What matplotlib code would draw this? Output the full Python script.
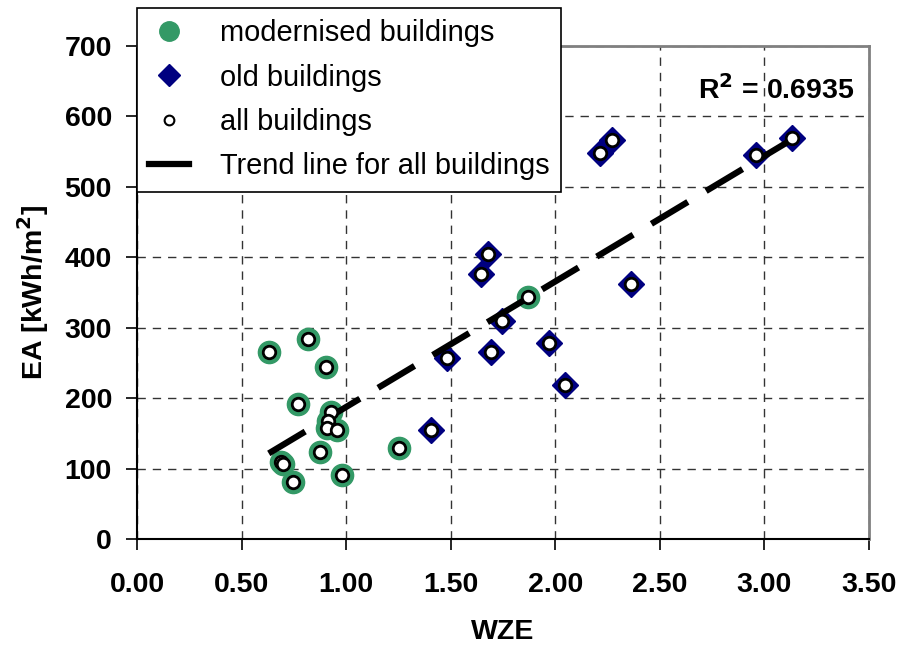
import numpy as np
import matplotlib.pyplot as plt
from matplotlib.lines import Line2D

plt.rcParams['font.family'] = ['Liberation Sans', 'DejaVu Sans']

# modernised buildings
mod_wze = [0.63, 0.82, 0.77, 0.905, 0.927, 0.913, 0.91, 0.958, 0.874,
           0.69, 0.70, 0.746, 0.978, 1.253, 1.87]
mod_ea = [265, 284, 191, 244, 180, 167, 157, 155, 124,
          110, 107, 81, 91, 129, 344]

# old buildings
old_wze = [1.679, 1.644, 1.745, 1.692, 1.481, 1.969, 2.048, 2.36, 1.405,
           2.215, 2.271, 2.958, 3.134]
old_ea = [404, 376, 309, 266, 257, 279, 219, 362, 155,
          548, 567, 545, 569]

r2_text = 'R$^\\mathbf{2}$ = 0.6935'

green = '#339966'
navy = '#000080'
fs = 20.5

all_wze = np.array(mod_wze + old_wze)
all_ea = np.array(mod_ea + old_ea)
k, d = np.polyfit(all_wze, all_ea, 1)
xt = np.array([all_wze.min(), all_wze.max()])

fig = plt.figure(figsize=(9, 6.48), dpi=100)
ax = fig.add_axes([0.1522, 0.1682, 0.8134, 0.7608])

ax.plot(mod_wze, mod_ea, 'o', ms=16, color=green, zorder=3)
ax.plot(old_wze, old_ea, 'D', ms=13, color=navy, zorder=3)
ax.plot(xt, k * xt + d, color='black', lw=4.5, dashes=(6.8, 3.4), zorder=4)
ax.plot(all_wze, all_ea, 'o', ms=9, mfc='white', mec='black', mew=2, zorder=5)

ax.set_xlim(0, 3.5)
ax.set_ylim(0, 700)
ax.set_xticks(np.arange(0, 3.51, 0.5))
ax.set_yticks(np.arange(0, 701, 100))
ax.set_xticklabels(['%.2f' % v for v in np.arange(0, 3.51, 0.5)])
ax.tick_params(direction='out', length=8, width=1.2, labelsize=fs, pad=10)
ax.tick_params(axis='x', pad=16)
for lab in ax.get_xticklabels() + ax.get_yticklabels():
    lab.set_fontweight('bold')
ax.grid(True, color='#333333', linestyle=(0, (6, 5)), lw=1)
ax.set_axisbelow(True)

for s in ['top', 'right']:
    ax.spines[s].set_color('#808080')
    ax.spines[s].set_linewidth(2)
for s in ['left', 'bottom']:
    ax.spines[s].set_color('black')
    ax.spines[s].set_linewidth(1.5)

ax.set_xlabel('WZE', fontsize=fs, fontweight='bold', labelpad=15)
ax.set_ylabel('EA [kWh/m$^\\mathbf{2}$]', fontsize=fs, fontweight='bold', labelpad=10)

ax.text(0.98, 0.91, r2_text, transform=ax.transAxes, ha='right', va='center',
        fontsize=fs, fontweight='bold', zorder=6)

handles = [
    Line2D([], [], marker='o', ls='none', ms=14, color=green),
    Line2D([], [], marker='D', ls='none', ms=11, color=navy),
    Line2D([], [], marker='o', ls='none', ms=7, mfc='white', mec='black', mew=1.5),
    Line2D([], [], color='black', lw=4.5),
]
labels = ['modernised buildings', 'old buildings', 'all buildings',
          'Trend line for all buildings']
leg = fig.legend(handles, labels, loc='upper left', bbox_to_anchor=(0.1522, 0.988),
                 prop={'size': 20.9}, frameon=True, fancybox=False, edgecolor='black',
                 framealpha=1, handlelength=1.4, handletextpad=1.05,
                 labelspacing=0.56, borderpad=0.4, borderaxespad=0.0)
leg.get_frame().set_linewidth(1.2)
leg.set_zorder(10)

fig.savefig('out.png', dpi=100)
